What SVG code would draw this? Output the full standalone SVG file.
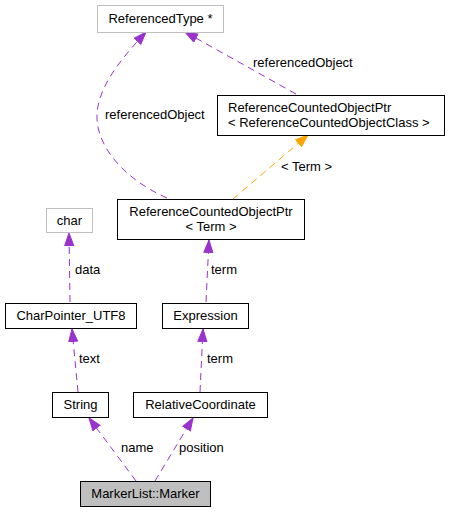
<svg xmlns="http://www.w3.org/2000/svg" width="449" height="513" viewBox="0 0 449 513">
<style>
text{font-family:"Liberation Sans",Arial,Helvetica,sans-serif;font-size:13px;fill:#000}
.box{fill:#fff;stroke:#000;stroke-width:1}
.gbox{fill:#fff;stroke:#bfbfbf;stroke-width:1}
.cur{fill:#bfbfbf;stroke:#000;stroke-width:1}
.e{fill:none;stroke:#9a32cd;stroke-width:1;stroke-dasharray:7,5;marker-end:url(#ap)}
.o{fill:none;stroke:#ffa500;stroke-width:1;stroke-dasharray:7,5;marker-end:url(#ao)}
.c{text-anchor:middle}
</style>
<defs>
<marker id="ap" markerUnits="userSpaceOnUse" markerWidth="14" markerHeight="11" refX="13" refY="5" orient="auto"><path d="M0.5,0.5 L13,5 L0.5,9.5 z" fill="#9a32cd" stroke="#9a32cd"/></marker>
<marker id="ao" markerUnits="userSpaceOnUse" markerWidth="14" markerHeight="11" refX="13" refY="5" orient="auto"><path d="M0.5,0.5 L13,5 L0.5,9.5 z" fill="#ffa500" stroke="#ffa500"/></marker>
</defs>
<rect width="449" height="513" fill="#fff"/>
<g id="edges">
<path class="e" d="M136,481 L89,418"/>
<text x="121" y="452">name</text>
<path class="e" d="M155,481 L193,418"/>
<text x="179" y="452">position</text>
<path class="e" d="M78,392 L72,329"/>
<text x="79" y="363">text</text>
<path class="e" d="M200,392 L203,329"/>
<text x="207" y="363">term</text>
<path class="e" d="M70,302 L69,233"/>
<text x="75" y="274">data</text>
<path class="e" d="M206,302 L209,240"/>
<text x="211" y="274">term</text>
<path class="e" d="M167,198 C130,182 96,150 97,115 C98,86 122,58 146,32"/>
<text x="105" y="119">referencedObject</text>
<path class="e" d="M296,94 L185,32"/>
<text x="253" y="67">referencedObject</text>
<path class="o" d="M233,199 L308,135"/>
<text x="281" y="171">&lt; Term &gt;</text>
</g>
<g id="node_referencedtype"><rect class="gbox" x="97.5" y="5.5" width="126" height="27"/><text class="c" x="160.5" y="23">ReferencedType *</text></g>
<g id="node_rcop_class"><rect class="box" x="217.5" y="95.5" width="227" height="40"/><text x="228" y="112">ReferenceCountedObjectPtr</text><text x="228" y="127">&lt; ReferenceCountedObjectClass &gt;</text></g>
<g id="node_rcop_term"><rect class="box" x="117.5" y="199.5" width="187" height="40"/><text class="c" x="211" y="216">ReferenceCountedObjectPtr</text><text class="c" x="211" y="231">&lt; Term &gt;</text></g>
<g id="node_char"><rect class="gbox" x="46.5" y="208.5" width="46" height="24"/><text class="c" x="69.5" y="225">char</text></g>
<g id="node_charpointer"><rect class="box" x="5.5" y="303.5" width="131" height="25"/><text class="c" x="71" y="320">CharPointer_UTF8</text></g>
<g id="node_expression"><rect class="box" x="162.5" y="303.5" width="86" height="25"/><text class="c" x="205.5" y="320">Expression</text></g>
<g id="node_string"><rect class="box" x="52.5" y="392.5" width="56" height="25"/><text class="c" x="80.5" y="409">String</text></g>
<g id="node_relcoord"><rect class="box" x="133.5" y="392.5" width="134" height="25"/><text class="c" x="200.5" y="409">RelativeCoordinate</text></g>
<g id="node_marker"><rect class="cur" x="80.5" y="481.5" width="130" height="25"/><text class="c" x="145.5" y="498">MarkerList::Marker</text></g>
</svg>
